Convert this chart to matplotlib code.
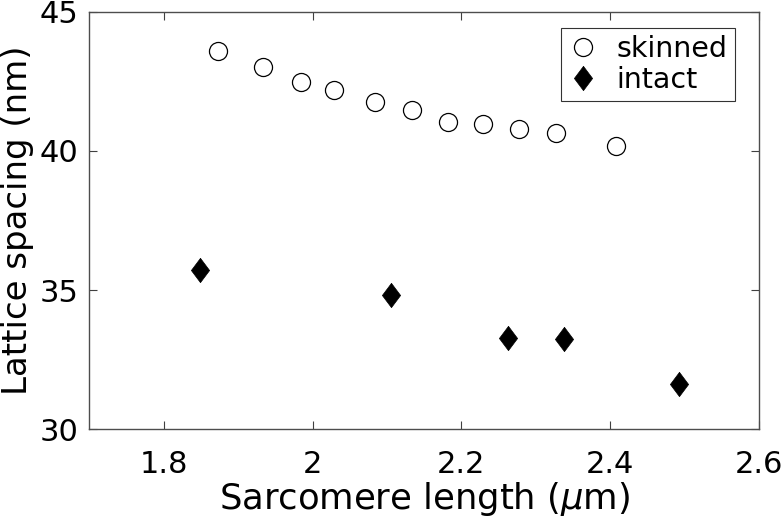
import numpy as np
import matplotlib
matplotlib.use("Agg")
import matplotlib.pyplot as plt

# skinned fibres (open circles)
skinned_sl = [1.873, 1.933, 1.984, 2.029, 2.084, 2.133, 2.182, 2.229, 2.277, 2.327, 2.408]
skinned_d = [43.61, 43.02, 42.47, 42.21, 41.76, 41.46, 41.03, 40.97, 40.78, 40.65, 40.17]

# intact fibres (filled diamonds)
intact_sl = [1.849, 2.106, 2.263, 2.338, 2.493]
intact_d = [35.73, 34.83, 33.28, 33.25, 31.63]

xticks = [1.8, 2.0, 2.2, 2.4, 2.6]
xticklabels = ["1.8", "2", "2.2", "2.4", "2.6"]
yticks = [30, 35, 40, 45]

plt.rcParams['font.family'] = ['DejaVu Sans']
fig = plt.figure(figsize=(7.82, 5.17), dpi=100)
ax = fig.add_axes([0.1142, 0.1702, 0.8564, 0.8066])

diamond = [(0, 1), (0.75, 0), (0, -1), (-0.75, 0), (0, 1)]

ax.plot(skinned_sl, skinned_d, linestyle='none', marker='o', markersize=13,
        markerfacecolor='white', markeredgecolor='black', markeredgewidth=0.9,
        label='skinned')
ax.plot(intact_sl, intact_d, linestyle='none', marker=diamond, markersize=17.5,
        markerfacecolor='black', markeredgecolor='black', markeredgewidth=0.5,
        label='intact')

ax.set_xlim(1.7, 2.6)
ax.set_ylim(30, 45)
ax.set_xticks(xticks)
ax.set_xticklabels(xticklabels)
ax.set_yticks(yticks)

ax.tick_params(direction='in', length=6, width=0.8, labelsize=22,
               top=True, right=True, colors='0.25', labelcolor='black')
ax.tick_params(axis='x', pad=15)
ax.tick_params(axis='y', pad=8)
for s in ax.spines.values():
    s.set_color('0.3')
    s.set_linewidth(1.0)

ax.set_xlabel('Sarcomere length ($\\mu$m)', fontsize=25.5, labelpad=1)
ax.set_ylabel('Lattice spacing (nm)', fontsize=24.5, labelpad=4)

leg = ax.legend(loc='upper right', bbox_to_anchor=(0.964, 0.9616), borderaxespad=0,
                fontsize=20.5, frameon=True, fancybox=False, edgecolor='black',
                handlelength=1.0, handletextpad=0.7, borderpad=0.25,
                labelspacing=0.1)
leg.get_frame().set_linewidth(0.8)

fig.savefig('out.png', dpi=100)
